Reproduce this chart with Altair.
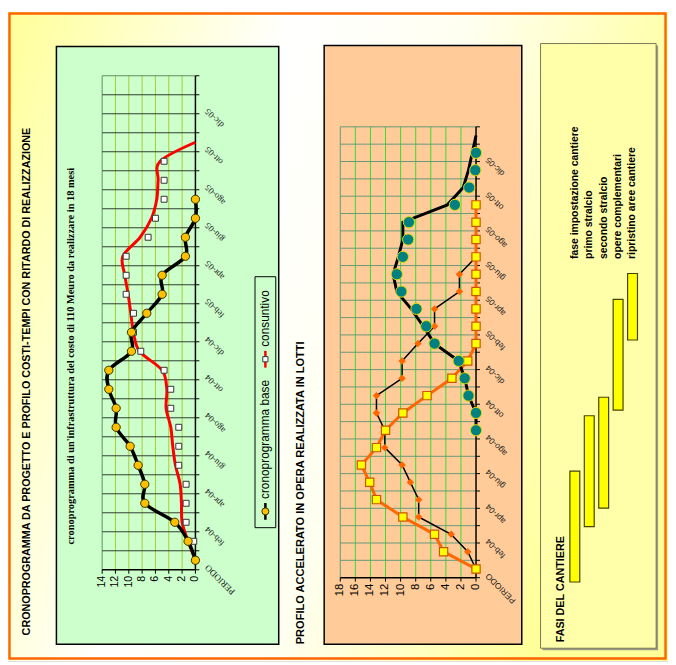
import altair as alt
import pandas as pd

W, H = 668, 657

TITLE_LEFT = "CRONOPROGRAMMA DA PROGETTO E PROFILO COSTI-TEMPI CON RITARDO DI REALIZZAZIONE"
SUBTITLE_LEFT = "cronoprogramma di un'infrastruttura del costo di 110 Meuro da realizzare in 18 mesi"
TITLE_MID = "PROFILO ACCELERATO IN OPERA REALIZZATA IN LOTTI"
TITLE_RIGHT = "FASI DEL CANTIERE"
LEGEND_LABELS = ["cronoprogramma base", "consuntivo"]

categories = ["PERIODO", "gen-04", "feb-04", "mar-04", "apr-04", "mag-04", "giu-04",
              "lug-04", "ago-04", "set-04", "ott-04", "nov-04", "dic-04", "gen-05",
              "feb-05", "mar-05", "apr-05", "mag-05", "giu-05", "lug-05", "ago-05",
              "set-05", "ott-05", "nov-05", "dic-05", "gen-06"]

# left chart
base_values = [0, 1.1, 3.1, 7.6, 7.6, 8.6, 9.8, 11.9, 11.9, 13.0, 13.0, 9.6, 9.6,
               7.3, 5.0, 5.0, 1.5, 1.5, 0, 0]
consuntivo_line = [0, 1.1, 2.0, 2.1, 2.3, 3.0, 3.4, 3.7, 4.4, 4.3, 5.0, 8.4, 9.3,
                   9.7, 10.1, 10.6, 10.9, 8.3, 6.6, 5.8, 5.6, 5.3, 0]
consuntivo_marks = [0, 0.25, 1.4, 1.4, 1.4, 2.5, 2.5, 2.5, 3.7, 3.7, 4.7, 8.2, 9.3,
                    9.3, 10.4, 10.4, 10.4, 7.1, 6.0, 4.7, 4.7, 4.7]
left_ticks = [0, 2, 4, 6, 8, 10, 12, 14]

# middle chart
accel_orange = [0, 4.3, 5.5, 9.7, 13.2, 14.1, 15.2, 13.2, 12.0, 9.7, 6.5, 3.2, 1.1,
                0, 0, 0, 0, 0, 0, 0, 0, 0]
accel_base = [0, 1.1, 3.3, 7.6, 7.6, 8.7, 9.8, 12.1, 12.1, 13.2, 13.2, 9.8, 9.8,
              7.7, 5.5, 5.5, 2.2, 2.2, 0]
lotti_start = 8
lotti_line = [0, 0, 1.0, 1.5, 2.3, 5.5, 7.0, 8.6, 10.5, 11.0, 10.3, 9.7, 9.7, 3.8,
              1.7, 1.0, 0.5, 0]
lotti_marks = [0, 0, 1.0, 1.5, 2.3, 5.5, 6.6, 7.9, 9.9, 10.5, 9.7, 9.0, 8.9, 2.8,
               0.9, 0.1, 0]
mid_ticks = [0, 2, 4, 6, 8, 10, 12, 14, 16, 18]

# gantt
phases = ["fase impostazione cantiere", "primo stralcio", "secondo stralcio",
          "opere complementari", "ripristino aree cantiere"]
phase_start = [0, 3, 4, 9.3, 13.1]
phase_end = [6, 9, 10, 15.3, 16.7]
months_domain = [0, 18]

n = len(categories)
lo, hi = -0.5, n - 0.5
bounds_all = [k - 0.5 for k in range(n + 1)]
label_values = list(range(0, n, 2))

ONE = pd.DataFrame({"d": [0]})


def deco_rect(x, x2, y, y2, **kw):
    return alt.Chart(ONE).mark_rect(**kw).encode(
        x=alt.value(x), x2=alt.value(x2), y=alt.value(y), y2=alt.value(y2))


def deco_text(txt, x, y, **kw):
    return alt.Chart(pd.DataFrame({"t": [txt]})).mark_text(**kw).encode(
        x=alt.value(x), y=alt.value(y), text="t:N")


def series_df(values, start=0):
    return pd.DataFrame({"k": list(range(start, start + len(values))), "v": values})


def frame(xs, ys, ticks, plot_right, plot_bottom, vcol, vedge, hcol,
          catfont, catsize, valsize):
    """grid lines, axis lines, ticks and labels of one rotated plot"""
    out = []
    vdf = pd.DataFrame({"v": ticks[1:], "lo": lo, "hi": hi})
    out.append(alt.Chart(vdf).mark_rule(strokeWidth=1).encode(
        x=alt.X("v:Q", scale=xs, axis=None),
        y=alt.Y("lo:Q", scale=ys, axis=None), y2="hi:Q",
        color=alt.condition(alt.datum.v == ticks[-1], alt.value(vedge), alt.value(vcol))))
    hdf = pd.DataFrame({"b": bounds_all[1:], "x0": ticks[0], "x1": ticks[-1]})
    out.append(alt.Chart(hdf).mark_rule(strokeWidth=1).encode(
        y=alt.Y("b:Q", scale=ys, axis=None),
        x=alt.X("x0:Q", scale=xs, axis=None), x2="x1:Q",
        color=alt.condition(alt.datum.b == bounds_all[-1], alt.value(vedge), alt.value(hcol))))
    # ticks on the value axis
    tdf = pd.DataFrame({"v": ticks, "lab": [str(t) for t in ticks]})
    out.append(alt.Chart(tdf).mark_rule(color="black", strokeWidth=1).encode(
        x=alt.X("v:Q", scale=xs, axis=None),
        y=alt.value(plot_bottom), y2=alt.value(plot_bottom + 4)))
    out.append(alt.Chart(tdf).mark_text(
        angle=270, align="right", baseline="middle", font="Liberation Sans",
        fontSize=valsize, color="black").encode(
        x=alt.X("v:Q", scale=xs, axis=None), y=alt.value(plot_bottom + 6), text="lab:N"))
    # axis lines
    ddf = pd.DataFrame({"a": [ticks[0]], "b": [ticks[-1]], "lo": [lo], "hi": [hi]})
    out.append(alt.Chart(ddf).mark_rule(color="black", strokeWidth=1.5).encode(
        x=alt.X("a:Q", scale=xs, axis=None), x2="b:Q", y=alt.value(plot_bottom)))
    out.append(alt.Chart(ddf).mark_rule(color="black", strokeWidth=1.5).encode(
        x=alt.X("a:Q", scale=xs, axis=None),
        y=alt.Y("lo:Q", scale=ys, axis=None), y2="hi:Q"))
    # ticks between periods
    bdf = pd.DataFrame({"b": bounds_all})
    out.append(alt.Chart(bdf).mark_rule(color="black", strokeWidth=1).encode(
        y=alt.Y("b:Q", scale=ys, axis=None),
        x=alt.value(plot_right), x2=alt.value(plot_right + 4)))
    # period labels (every second one)
    cdf = pd.DataFrame({"k": label_values, "lab": [categories[k] for k in label_values]})
    out.append(alt.Chart(cdf).mark_text(
        angle=225, align="right", baseline="middle", font=catfont, fontSize=catsize,
        color="#222222", yOffset=6).encode(
        y=alt.Y("k:Q", scale=ys, axis=None), x=alt.value(plot_right + 11), text="lab:N"))
    return out


# ---------------- left panel ----------------
LX = alt.Scale(domain=[0, 14], range=[189.7, 95.3], nice=False, zero=False)
LY = alt.Scale(domain=[lo, hi], range=[564.6, 64.6], nice=False, zero=False)
l_frame = frame(LX, LY, left_ticks, 189.7, 564.6, "#a8cc33", "#5f8f5f",
                "#2e3e2e", "Liberation Serif", 9, 10.8)

red_line = alt.Chart(series_df(consuntivo_line)).mark_line(
    color="#ff0000", strokeWidth=3, interpolate="cardinal").encode(
    x=alt.X("v:Q", scale=LX, axis=None), y=alt.Y("k:Q", scale=LY, axis=None), order="k:Q")
black_line = alt.Chart(series_df(base_values)).mark_line(
    color="black", strokeWidth=3.5, interpolate="cardinal").encode(
    x=alt.X("v:Q", scale=LX, axis=None), y=alt.Y("k:Q", scale=LY, axis=None), order="k:Q")
squares = alt.Chart(series_df(consuntivo_marks)).mark_point(
    shape="square", filled=True, fill="white", stroke="#333333", strokeWidth=1,
    size=36, opacity=1).encode(
    x=alt.X("v:Q", scale=LX, axis=None), y=alt.Y("k:Q", scale=LY, axis=None))
circles = alt.Chart(series_df(base_values)).mark_point(
    shape="circle", filled=True, fill="#ffc000", stroke="#333300", strokeWidth=1,
    size=70, opacity=1).encode(
    x=alt.X("v:Q", scale=LX, axis=None), y=alt.Y("k:Q", scale=LY, axis=None))
left = alt.layer(*l_frame, red_line, black_line, squares, circles)

# ---------------- middle panel ----------------
MX = alt.Scale(domain=[0, 18], range=[473.7, 336.3], nice=False, zero=False)
MY = alt.Scale(domain=[lo, hi], range=[572.6, 116.3], nice=False, zero=False)
m_frame = frame(MX, MY, mid_ticks, 473.7, 572.6, "#33dd33", "#669977",
                "#669977", "Liberation Sans", 8.5, 11.5)

thin_line = alt.Chart(series_df(accel_base)).mark_line(
    color="black", strokeWidth=1.5).encode(
    x=alt.X("v:Q", scale=MX, axis=None), y=alt.Y("k:Q", scale=MY, axis=None), order="k:Q")
diamonds = alt.Chart(series_df(accel_base)).mark_point(
    shape="diamond", filled=True, fill="#ff6600", stroke="#ff6600", size=22,
    opacity=1).encode(
    x=alt.X("v:Q", scale=MX, axis=None), y=alt.Y("k:Q", scale=MY, axis=None))
orange_line = alt.Chart(series_df(accel_orange)).mark_line(
    color="#ff6600", strokeWidth=3).encode(
    x=alt.X("v:Q", scale=MX, axis=None), y=alt.Y("k:Q", scale=MY, axis=None), order="k:Q")
orange_sq = alt.Chart(series_df(accel_orange)).mark_point(
    shape="square", filled=True, fill="#ffff00", stroke="#cc5500", strokeWidth=1.2,
    size=70, opacity=1).encode(
    x=alt.X("v:Q", scale=MX, axis=None), y=alt.Y("k:Q", scale=MY, axis=None))
lotti_ln = alt.Chart(series_df(lotti_line, lotti_start)).mark_line(
    color="black", strokeWidth=3).encode(
    x=alt.X("v:Q", scale=MX, axis=None), y=alt.Y("k:Q", scale=MY, axis=None), order="k:Q")
lotti_pt = alt.Chart(series_df(lotti_marks, lotti_start)).mark_point(
    shape="circle", filled=True, fill="#008080", stroke="#dddd00", strokeWidth=1,
    size=130, opacity=1).encode(
    x=alt.X("v:Q", scale=MX, axis=None), y=alt.Y("k:Q", scale=MY, axis=None))
middle = alt.layer(*m_frame, thin_line, diamonds, orange_line, orange_sq,
                   lotti_ln, lotti_pt)

# ---------------- gantt ----------------
GX = alt.Scale(domain=phases, range=[568.7, 637.1], paddingInner=0.315, paddingOuter=0)
GY = alt.Scale(domain=months_domain, range=[577, 240.4], nice=False, zero=False)
gdf = pd.DataFrame({"phase": phases, "start": phase_start, "end": phase_end})
gbars = alt.Chart(gdf).mark_bar(fill="#ffff00", stroke="#444400", strokeWidth=1.2).encode(
    x=alt.X("phase:N", scale=GX, axis=None, sort=phases),
    y=alt.Y("start:Q", scale=GY, axis=None), y2="end:Q")
glabels = alt.Chart(gdf).mark_text(
    angle=270, align="left", baseline="middle", font="Liberation Sans",
    fontWeight="bold", fontSize=10.5, color="black").encode(
    x=alt.X("phase:N", scale=GX, axis=None, sort=phases), y=alt.value(250), text="phase:N")
gantt = alt.layer(gbars, glabels)

# ---------------- decorations ----------------
page_bg = deco_rect(0, W, 0, H, fill={
    "gradient": "linear", "x1": 0, "y1": 0, "x2": 1, "y2": 0.3,
    "stops": [{"offset": 0, "color": "#ffff99"}, {"offset": 0.4, "color": "#ffffff"},
              {"offset": 0.65, "color": "#fffff0"}, {"offset": 1, "color": "#ffff99"}]})
border = deco_rect(1.5, 665.5, 1.5, 654.5, fillOpacity=0, stroke="#ff6600", strokeWidth=2.5)
left_panel_bg = deco_rect(49, 274, 35, 640, fill="#ccffcc", stroke="black", strokeWidth=1.5)
mid_panel_bg = deco_rect(320, 520, 34, 640, fill="#ffcc99", stroke="black", strokeWidth=1.5)
right_shadow = deco_rect(541, 658, 34, 646, fill="#999988")
right_panel_bg = deco_rect(539, 656, 32, 644, fill="#ffffaa", stroke="#777755", strokeWidth=1)

t1 = deco_text(TITLE_LEFT, 19, 631, angle=270, align="left", baseline="middle",
               font="Liberation Sans", fontWeight="bold", fontSize=10.9, color="black")
t_sub = deco_text(SUBTITLE_LEFT, 64, 539, angle=270, align="left", baseline="middle",
                  font="Liberation Serif", fontWeight="bold", fontSize=10.5, color="black")
t2 = deco_text(TITLE_MID, 297, 640, angle=270, align="left", baseline="middle",
               font="Liberation Sans", fontWeight="bold", fontSize=11.2, color="black")
t3 = deco_text(TITLE_RIGHT, 560, 638, angle=270, align="left", baseline="middle",
               font="Liberation Sans", fontWeight="bold", fontSize=10.9, color="black")

# legend (manual, rotated like the page)
leg_box = deco_rect(250, 271, 268, 522, fill="#ccffcc", stroke="black", strokeWidth=1)
leg_l1 = alt.Chart(ONE).mark_rule(color="black", strokeWidth=2.5).encode(
    x=alt.value(260.5), y=alt.value(497), y2=alt.value(514))
leg_p1 = alt.Chart(ONE).mark_point(shape="circle", filled=True, fill="#ffc000",
                                   stroke="#333300", strokeWidth=1, size=50, opacity=1).encode(
    x=alt.value(260.5), y=alt.value(505.5))
leg_t1 = deco_text(LEGEND_LABELS[0], 260.5, 493, angle=270, align="left", baseline="middle",
                   font="Liberation Sans", fontSize=12, color="black")
leg_l2 = alt.Chart(ONE).mark_rule(color="#ff0000", strokeWidth=2.5).encode(
    x=alt.value(260.5), y=alt.value(343), y2=alt.value(360))
leg_p2 = alt.Chart(ONE).mark_point(shape="square", filled=True, fill="white",
                                   stroke="#333333", strokeWidth=1, size=28, opacity=1).encode(
    x=alt.value(260.5), y=alt.value(351.5))
leg_t2 = deco_text(LEGEND_LABELS[1], 260.5, 339, angle=270, align="left", baseline="middle",
                   font="Liberation Sans", fontSize=12, color="black")

chart = alt.layer(
    page_bg, border, left_panel_bg, mid_panel_bg, right_shadow, right_panel_bg,
    t1, t_sub, t2, t3,
    left, middle, gantt,
    leg_box, leg_l1, leg_p1, leg_t1, leg_l2, leg_p2, leg_t2,
).resolve_scale(x="independent", y="independent").properties(
    width=W, height=H, autosize=alt.AutoSizeParams(type="none"), padding=0,
).configure_view(stroke=None, fill=None).configure(background="white")

chart.save("out.html", embed_options={"renderer": "svg", "actions": False})
